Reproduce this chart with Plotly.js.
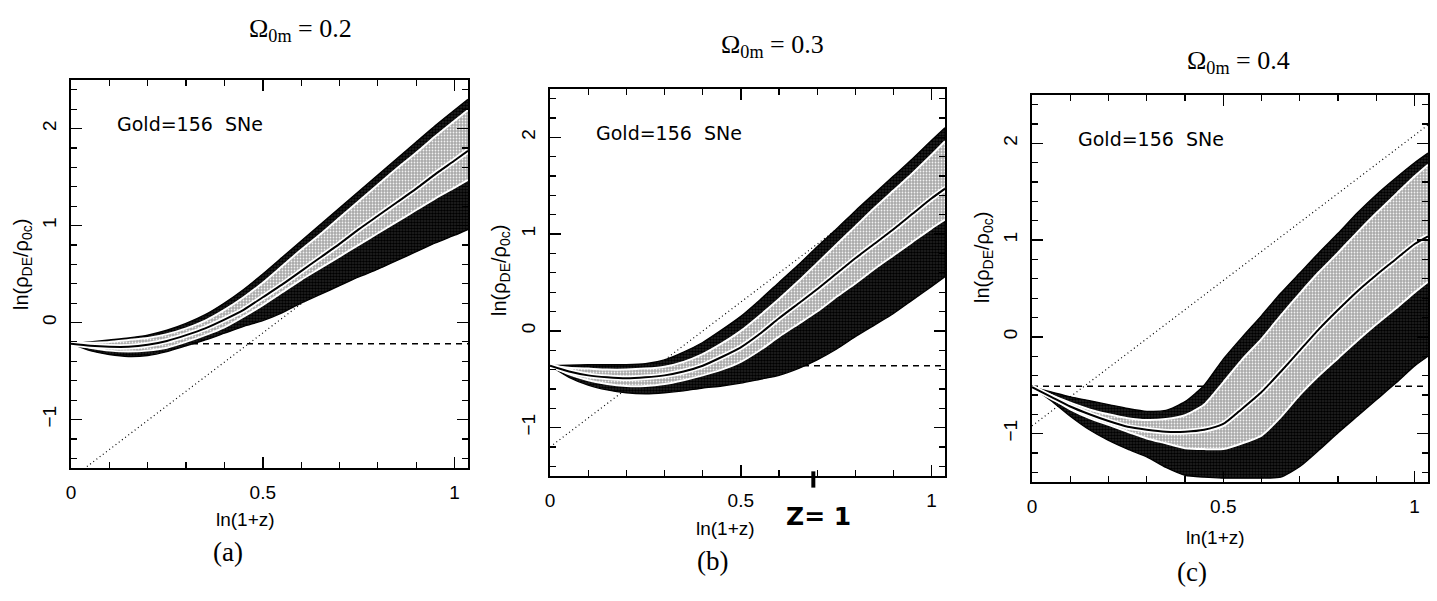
<!DOCTYPE html>
<html>
<head>
<meta charset="utf-8">
<script src="https://cdn.plot.ly/plotly-3.0.1.min.js"></script>
<style>
  html, body { margin: 0; padding: 0; background: #fff; }
  #plot { width: 1437px; height: 601px; }
</style>
</head>
<body>
<div id="plot"></div>
<script>
// ln(1+z) sampling points shared by every band
const lnOnePlusZ = [0, 0.05, 0.1, 0.15, 0.2, 0.25, 0.3, 0.35, 0.4, 0.45, 0.5,
                    0.55, 0.6, 0.65, 0.7, 0.75, 0.8, 0.85, 0.9, 0.95, 1.0, 1.035];

const omegaLabels = ['Ω<sub>0m</sub> = 0.2', 'Ω<sub>0m</sub> = 0.3', 'Ω<sub>0m</sub> = 0.4'];
const panelTags = ['(a)', '(b)', '(c)'];
const sampleLabel = 'Gold=156\u00a0\u00a0SNe';

// Ω0m = 0.2 : 2σ upper, 1σ upper, best fit, 1σ lower, 2σ lower
const outerUpperA = [-0.22,-0.20,-0.18,-0.16,-0.13,-0.08,-0.01,0.08,0.20,0.34,0.50,0.67,0.84,1.01,1.18,1.35,1.52,1.69,1.86,2.03,2.19,2.30];
const innerUpperA = [-0.22,-0.21,-0.20,-0.18,-0.16,-0.12,-0.06,0.02,0.13,0.26,0.41,0.58,0.75,0.91,1.08,1.25,1.42,1.59,1.75,1.92,2.08,2.19];
const bestFitA    = [-0.22,-0.24,-0.25,-0.25,-0.23,-0.19,-0.13,-0.06,0.03,0.13,0.26,0.39,0.53,0.67,0.81,0.96,1.10,1.24,1.38,1.53,1.67,1.77];
const innerLowerA = [-0.22,-0.26,-0.29,-0.30,-0.29,-0.26,-0.20,-0.13,-0.05,0.06,0.18,0.31,0.44,0.56,0.68,0.80,0.92,1.04,1.16,1.28,1.39,1.47];
const outerLowerA = [-0.22,-0.29,-0.33,-0.35,-0.34,-0.30,-0.24,-0.18,-0.11,-0.04,0.02,0.10,0.20,0.29,0.38,0.47,0.55,0.64,0.73,0.82,0.90,0.96];

// Ω0m = 0.3
const outerUpperB = [-0.36,-0.355,-0.35,-0.35,-0.35,-0.34,-0.30,-0.22,-0.12,0.01,0.15,0.32,0.50,0.68,0.87,1.05,1.24,1.42,1.60,1.78,1.97,2.10];
const innerUpperB = [-0.36,-0.38,-0.39,-0.40,-0.40,-0.39,-0.37,-0.32,-0.24,-0.13,0.00,0.16,0.33,0.51,0.70,0.89,1.08,1.27,1.45,1.63,1.82,1.96];
const bestFitB    = [-0.36,-0.42,-0.46,-0.48,-0.49,-0.48,-0.46,-0.42,-0.36,-0.27,-0.17,-0.03,0.13,0.28,0.43,0.59,0.75,0.90,1.05,1.21,1.37,1.47];
const innerLowerB = [-0.36,-0.45,-0.51,-0.55,-0.57,-0.57,-0.55,-0.51,-0.46,-0.40,-0.32,-0.20,-0.06,0.07,0.20,0.35,0.49,0.64,0.78,0.92,1.06,1.15];
const outerLowerB = [-0.36,-0.48,-0.56,-0.61,-0.64,-0.65,-0.64,-0.62,-0.59,-0.57,-0.54,-0.50,-0.46,-0.39,-0.30,-0.19,-0.06,0.06,0.18,0.32,0.46,0.56];

// Ω0m = 0.4
const outerUpperC = [-0.52,-0.57,-0.62,-0.66,-0.70,-0.74,-0.77,-0.76,-0.67,-0.50,-0.23,0.00,0.22,0.45,0.66,0.87,1.07,1.28,1.47,1.64,1.80,1.90];
const innerUpperC = [-0.52,-0.60,-0.68,-0.75,-0.80,-0.84,-0.86,-0.85,-0.81,-0.70,-0.47,-0.23,-0.02,0.22,0.45,0.67,0.87,1.08,1.28,1.47,1.66,1.78];
const bestFitC    = [-0.52,-0.62,-0.72,-0.80,-0.87,-0.93,-0.96,-0.98,-0.98,-0.96,-0.90,-0.74,-0.57,-0.36,-0.14,0.08,0.28,0.47,0.64,0.80,0.96,1.04];
const innerLowerC = [-0.52,-0.63,-0.75,-0.84,-0.91,-0.98,-1.05,-1.10,-1.15,-1.16,-1.16,-1.10,-1.02,-0.83,-0.60,-0.40,-0.22,-0.04,0.13,0.29,0.46,0.57];
const outerLowerC = [-0.52,-0.66,-0.82,-0.96,-1.07,-1.16,-1.24,-1.35,-1.43,-1.45,-1.46,-1.46,-1.46,-1.45,-1.34,-1.17,-0.99,-0.82,-0.65,-0.48,-0.30,-0.20];

// cosmological-constant level (dashed) and matter density line (dotted)
const lambdaLevel = [-0.22, -0.36, -0.51];
const matterX     = [0, 1.035];
const matterStart = [-1.61, -1.20, -0.92];
const matterEnd   = [1.50, 1.90, 2.19];

// redshift marker on the middle panel
const zOneMark = 0.69;

const bands = [
  [outerUpperA, innerUpperA, bestFitA, innerLowerA, outerLowerA],
  [outerUpperB, innerUpperB, bestFitB, innerLowerB, outerLowerB],
  [outerUpperC, innerUpperC, bestFitC, innerLowerC, outerLowerC]
];

const W = 1437, H = 601;
// plot frames in pixels: [left, right, top, bottom]
const frames = [
  [71, 468, 80, 468],
  [550, 945, 89, 476],
  [1032, 1428, 95, 482]
];

const darkFill  = { shape: '.', fgcolor: '#000000', bgcolor: '#262626', size: 3, solidity: 0.6 };
const lightFill = { shape: '.', fgcolor: '#f2f2f2', bgcolor: '#a9a9a9', size: 3, solidity: 0.28 };

const sansNarrow = 'Liberation Sans Narrow, Liberation Sans, Arial, sans-serif';
const tickFont = { family: sansNarrow, size: 19, color: '#000' };

const traces = [];
const layout = {
  width: W, height: H,
  margin: { l: 0, r: 0, t: 0, b: 0 },
  paper_bgcolor: '#fff', plot_bgcolor: '#fff',
  showlegend: false,
  annotations: [],
  shapes: []
};

bands.forEach((b, i) => {
  const s = i === 0 ? '' : String(i + 1);
  const xa = 'x' + s, ya = 'y' + s;
  const [l, r, t, bt] = frames[i];
  const common = { xaxis: xa, yaxis: ya, mode: 'lines', hoverinfo: 'skip', showlegend: false };
  const spl = { shape: 'spline', smoothing: 0.6 };

  traces.push(Object.assign({}, common, {
    x: [0, 1.035], y: [lambdaLevel[i], lambdaLevel[i]],
    line: { color: '#000', width: 1.5, dash: '6px,5px' }
  }));
  traces.push(Object.assign({}, common, {
    x: matterX, y: [matterStart[i], matterEnd[i]],
    line: { color: '#000', width: 1.2, dash: '1px,3px' }
  }));

  const [u2, u1, bf, l1, l2] = b;
  traces.push(Object.assign({}, common, { x: lnOnePlusZ, y: l2, line: Object.assign({ color: '#000', width: 1.4 }, spl) }));
  traces.push(Object.assign({}, common, { x: lnOnePlusZ, y: l1, fill: 'tonexty', fillcolor: '#262626', fillpattern: darkFill, line: Object.assign({ color: '#000', width: 0.8 }, spl) }));
  traces.push(Object.assign({}, common, { x: lnOnePlusZ, y: u1, fill: 'tonexty', fillcolor: '#a9a9a9', fillpattern: lightFill, line: Object.assign({ color: '#000', width: 0.8 }, spl) }));
  traces.push(Object.assign({}, common, { x: lnOnePlusZ, y: u2, fill: 'tonexty', fillcolor: '#262626', fillpattern: darkFill, line: Object.assign({ color: '#000', width: 1.4 }, spl) }));
  traces.push(Object.assign({}, common, { x: lnOnePlusZ, y: l1, line: Object.assign({ color: '#fff', width: 2 }, spl) }));
  traces.push(Object.assign({}, common, { x: lnOnePlusZ, y: u1, line: Object.assign({ color: '#fff', width: 2 }, spl) }));
  traces.push(Object.assign({}, common, { x: lnOnePlusZ, y: bf, line: Object.assign({ color: '#fff', width: 5.5 }, spl) }));
  traces.push(Object.assign({}, common, { x: lnOnePlusZ, y: bf, line: Object.assign({ color: '#000', width: 2 }, spl) }));

  const axisBase = {
    showgrid: false, zeroline: false, showline: true, linecolor: '#000', linewidth: 2,
    mirror: 'allticks', ticks: 'inside', ticklen: 11, tickwidth: 1.6, tickcolor: '#000',
    tickfont: tickFont, fixedrange: true
  };
  layout['xaxis' + s] = Object.assign({}, axisBase, {
    domain: [l / W, r / W], anchor: ya, range: [0, 1.035], dtick: 0.5, tick0: 0,
    ticklabelstandoff: 6,
    minor: { dtick: 0.1, tick0: 0, ticks: 'inside', ticklen: 6, tickwidth: 1.2, tickcolor: '#000' }
  });
  layout['yaxis' + s] = Object.assign({}, axisBase, {
    domain: [1 - bt / H, 1 - t / H], anchor: xa, range: [-1.5, 2.5], dtick: 1, tick0: 0,
    tickangle: -90, ticklabelstandoff: 5,
    minor: { dtick: 0.2, tick0: 0, ticks: 'inside', ticklen: 6, tickwidth: 1.2, tickcolor: '#000' }
  });

  layout.annotations.push({
    xref: xa, yref: ya, x: 0.115, y: 2.05, xanchor: 'left', yanchor: 'middle',
    text: sampleLabel, showarrow: false,
    font: { family: 'DejaVu Sans, Liberation Sans, sans-serif', size: 19, color: '#000' }
  });
});

// panel headings, axis titles and tags (pixel centres)
const headingPos = [[300, 30], [772, 46], [1238, 62]];
const xTitlePos  = [[245, 519], [725, 528], [1215, 537]];
const yTitlePos  = [[22, 265], [500, 270], [983, 258]];
const tagPos     = [[228, 552], [712, 561], [1192, 572]];
const px = (x, y) => ({
  x: x / W, y: 1 - y / H, xref: 'paper', yref: 'paper',
  xanchor: 'center', yanchor: 'middle', showarrow: false
});

for (let i = 0; i < 3; i++) {
  layout.annotations.push(Object.assign(px(...headingPos[i]), {
    text: omegaLabels[i], font: { family: 'Liberation Serif, DejaVu Serif, serif', size: 26, color: '#000' }
  }));
  layout.annotations.push(Object.assign(px(...xTitlePos[i]), {
    text: 'ln(1+z)', font: { family: sansNarrow, size: 19, color: '#000' }
  }));
  layout.annotations.push(Object.assign(px(...yTitlePos[i]), {
    text: 'ln(ρ<sub>DE</sub>/ρ<sub>0c</sub>)', textangle: -90,
    font: { family: sansNarrow, size: 20, color: '#000' }
  }));
  layout.annotations.push(Object.assign(px(...tagPos[i]), {
    text: panelTags[i], font: { family: 'Liberation Serif, DejaVu Serif, serif', size: 27, color: '#000' }
  }));
}

// hand-written z = 1 marker below the middle panel
layout.shapes.push({
  type: 'line', xref: 'x2', yref: 'y2 domain', x0: zOneMark, x1: zOneMark, y0: -0.03, y1: 0.012,
  line: { color: '#000', width: 4 }
});
layout.annotations.push(Object.assign(px(818, 516), {
  text: '<b>Z= 1</b>', font: { family: 'DejaVu Sans, sans-serif', size: 25, color: '#000' }
}));

Plotly.newPlot('plot', traces, layout, { staticPlot: true, displayModeBar: false });
</script>
</body>
</html>
